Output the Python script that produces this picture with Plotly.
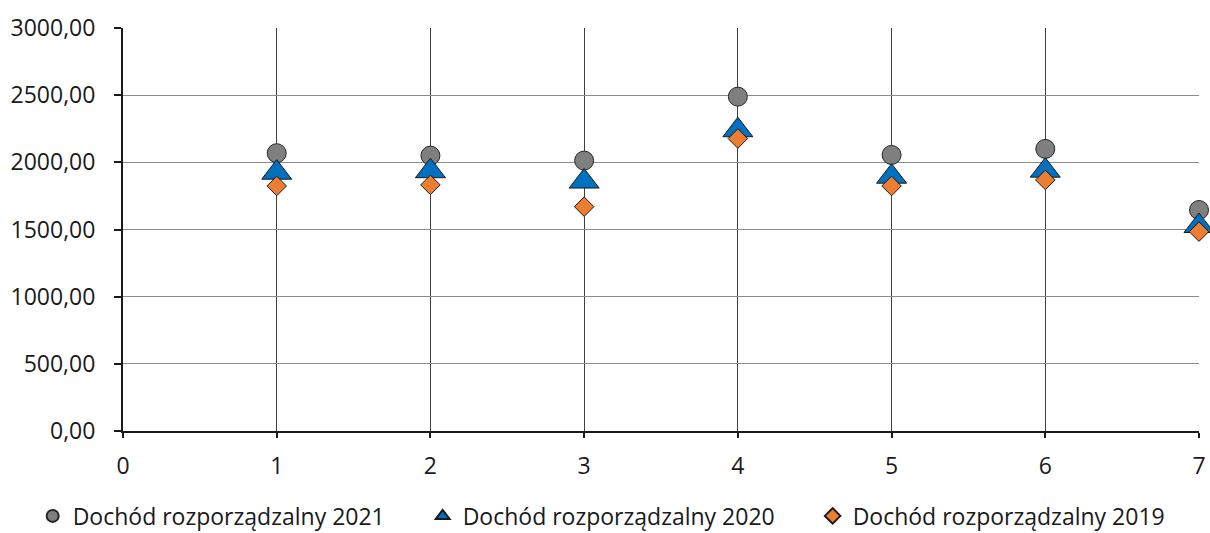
import plotly.graph_objects as go

# Disposable income by position, three survey years
x_pos = [1, 2, 3, 4, 5, 6, 7]
doch_2021 = [2068, 2050, 2013, 2489, 2055, 2100, 1645]
doch_2020 = [1923, 1934, 1857, 2239, 1893, 1938, 1526]
doch_2019 = [1824, 1832, 1670, 2177, 1824, 1869, 1484]

names = ["Dochód rozporządzalny 2021", "Dochód rozporządzalny 2020", "Dochód rozporządzalny 2019"]
FONT = "Open Sans"

fig = go.Figure()
fig.add_trace(go.Scatter(
    x=x_pos, y=doch_2021, mode="markers", name=names[0], cliponaxis=False, legend="legend",
    marker=dict(symbol="circle", size=19, color="#7f7f7f", line=dict(color="#262626", width=1)),
))
fig.add_trace(go.Scatter(
    x=x_pos, y=doch_2020, mode="markers", name=names[1], cliponaxis=False, legend="legend2",
    marker=dict(symbol="triangle-up", size=26, color="#0070c0", line=dict(color="#1a1a1a", width=1)),
))
fig.add_trace(go.Scatter(
    x=x_pos, y=doch_2019, mode="markers", name=names[2], cliponaxis=False, legend="legend3",
    marker=dict(symbol="diamond", size=15, color="#ed7d31", line=dict(color="#1a1a1a", width=1)),
))


def legend_box(xpos):
    # one single-entry legend per series, laid out in a row under the axis
    return dict(
        orientation="h",
        xref="container", x=xpos, xanchor="left",
        yref="container", y=0.032, yanchor="middle",
        font=dict(family=FONT, size=23, color="#1a1a1a"),
        itemsizing="constant", bgcolor="rgba(0,0,0,0)",
    )


fig.update_layout(
    width=1210, height=533,
    margin=dict(l=123, r=11, t=28, b=102, autoexpand=False),
    plot_bgcolor="white", paper_bgcolor="white",
    separators=", ",
    font=dict(family=FONT, size=23, color="#1a1a1a"),
    showlegend=True,
    legend=legend_box(0.027),
    legend2=legend_box(0.3493),
    legend3=legend_box(0.6716),
    xaxis=dict(
        range=[0, 7], tickmode="linear", dtick=1, tick0=0,
        showgrid=True, gridcolor="#404040", gridwidth=1,
        showline=True, linecolor="#1a1a1a", linewidth=2,
        ticks="outside", ticklen=5, tickcolor="#1a1a1a", tickwidth=2,
        ticklabelstandoff=8, zeroline=False, automargin=False,
    ),
    yaxis=dict(
        range=[0, 3000], tickmode="linear", dtick=500, tick0=0,
        tickformat=".2f",
        showgrid=True, gridcolor="#8c8c8c", gridwidth=1,
        showline=True, linecolor="#1a1a1a", linewidth=2,
        ticks="outside", ticklen=7, tickcolor="#1a1a1a", tickwidth=2,
        ticklabelstandoff=14, zeroline=False, automargin=False,
    ),
)

fig.write_html("out.html")
